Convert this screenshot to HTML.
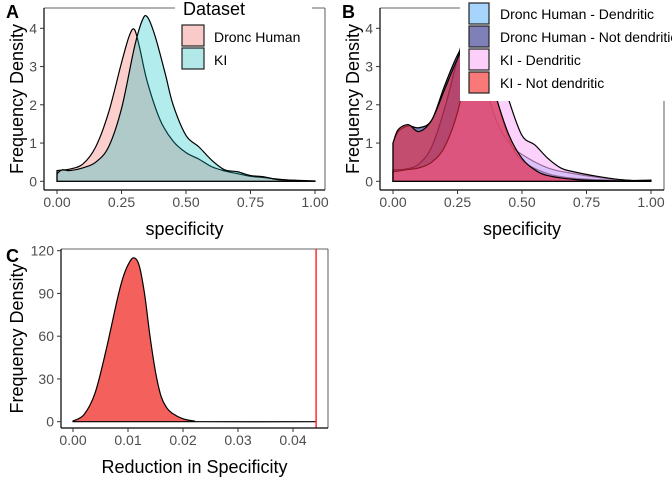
<!DOCTYPE html>
<html><head><meta charset="utf-8"><style>
body{margin:0;background:#fff;}
svg{display:block;font-family:"Liberation Sans",sans-serif;}
.tk{font-size:14px;fill:#4d4d4d;}
.ttl{font-size:18px;fill:#000;}
.lg{font-size:14px;fill:#000;}
</style></head><body>
<svg id="s" width="672" height="480"></svg>
<script>
const specTicks=[0,0.25,0.5,0.75,1];
const specTickLabels=["0.00","0.25","0.50","0.75","1.00"];
const densTicks=[0,1,2,3,4];
const droncX=[0,0.05,0.1,0.15,0.2,0.25,0.28,0.3,0.32,0.35,0.4,0.45,0.5,0.55,0.6,0.65,0.7,0.75,0.8,0.85,0.9,0.95,1];
const droncY=[0.28,0.32,0.45,0.9,1.8,3.1,3.8,3.97,3.5,2.6,1.6,1.05,0.75,0.58,0.38,0.27,0.2,0.13,0.1,0.06,0.03,0.01,0];
const kiX=[0,0.02,0.05,0.1,0.15,0.2,0.25,0.3,0.33,0.35,0.38,0.42,0.45,0.5,0.55,0.6,0.65,0.7,0.75,0.8,0.85,0.9,1];
const kiY=[0.2,0.3,0.28,0.35,0.5,0.9,1.9,3.5,4.2,4.3,3.8,2.8,2.0,1.2,0.9,0.55,0.3,0.25,0.15,0.12,0.05,0.03,0.01];
const dhDendX=[0,0.05,0.1,0.15,0.2,0.25,0.28,0.3,0.32,0.35,0.4,0.45,0.5,0.6,0.7,0.8,0.9,1];
const dhDendY=[0.3,0.32,0.45,0.9,1.9,3.2,3.9,4.0,3.6,2.7,1.6,1.0,0.7,0.35,0.2,0.1,0.03,0];
const dhNotX=[0,0.02,0.06,0.1,0.15,0.2,0.25,0.3,0.35,0.4,0.45,0.5,0.6,0.7,0.8,0.9,1];
const dhNotY=[1.0,1.3,1.45,1.4,1.6,2.5,3.3,3.8,3.4,2.2,1.1,0.55,0.2,0.08,0.04,0.02,0.03];
const kiDendX=[0,0.05,0.1,0.15,0.2,0.25,0.3,0.35,0.4,0.45,0.5,0.55,0.6,0.65,0.7,0.8,0.9,1];
const kiDendY=[0.25,0.3,0.35,0.5,0.9,1.8,3.3,4.1,3.2,2.1,1.2,0.95,0.6,0.35,0.25,0.12,0.03,0];
const kiNotX=[0,0.02,0.06,0.1,0.15,0.2,0.25,0.3,0.35,0.4,0.45,0.5,0.55,0.6,0.7,0.8,1];
const kiNotY=[1.0,1.35,1.48,1.3,1.6,2.4,3.2,3.8,3.5,2.2,1.2,0.6,0.3,0.15,0.05,0.02,0];
const redX=[0,0.002,0.004,0.006,0.008,0.009,0.01,0.011,0.012,0.013,0.014,0.015,0.016,0.017,0.018,0.02,0.022,0.024,0.0442];
const redY=[0.5,5,20,50,85,100,110,115,110,90,60,35,18,10,6,2,0.5,0,0];
const redTicks=[0,0.01,0.02,0.03,0.04];
const redTickLabels=["0.00","0.01","0.02","0.03","0.04"];
const redYTicks=[0,30,60,90,120];
const observed=0.0442;

const S=document.getElementById('s');const NS='http://www.w3.org/2000/svg';
function el(t,a,p){const e=document.createElementNS(NS,t);for(const k in a)e.setAttribute(k,a[k]);(p||S).appendChild(e);return e;}
function txt(s,a,cls){const e=el('text',a);e.setAttribute('class',cls);e.textContent=s;return e;}
function path(xs,ys,sx,sy){const P=xs.map((x,i)=>[sx(x),sy(ys[i])]);let d='M'+sx(xs[0])+','+sy(0)+'L'+P[0][0]+','+P[0][1];
 for(let i=0;i<P.length-1;i++){const p0=P[Math.max(0,i-1)],p1=P[i],p2=P[i+1],p3=P[Math.min(P.length-1,i+2)];
 d+='C'+(p1[0]+(p2[0]-p0[0])/6)+','+(p1[1]+(p2[1]-p0[1])/6)+' '+(p2[0]-(p3[0]-p1[0])/6)+','+(p2[1]-(p3[1]-p1[1])/6)+' '+p2[0]+','+p2[1];}
 return d+'L'+P[P.length-1][0]+','+sy(0)+'Z';}
function axes(ox,left,bottom,x0,x1,ticks,labs,sx,yticks,sy,ylabs,xt){
 el('line',{x1:left,y1:bottom,x2:x1,y2:bottom,stroke:'#000','stroke-width':1.2});
 el('line',{x1:left,y1:x0,x2:left,y2:bottom,stroke:'#000','stroke-width':1.2});
 ticks.forEach((t,i)=>{el('line',{x1:sx(t),x2:sx(t),y1:bottom,y2:bottom+4,stroke:'#333'});
  const e=txt(labs[i],{x:sx(t),y:bottom+17,'text-anchor':'middle'},'tk');});
 yticks.forEach((t,i)=>{el('line',{x1:left-4,x2:left,y1:sy(t),y2:sy(t),stroke:'#333'});
  const e=txt(ylabs[i],{x:left-7,y:sy(t)+5,'text-anchor':'end'},'tk');});
 let e=txt(xt,{x:(left+x1)/2,y:bottom+45,'text-anchor':'middle'},'ttl');
 e=txt('Frequency Density',{x:0,y:0,'text-anchor':'middle',transform:`translate(${ox+23},${(x0+bottom)/2}) rotate(-90)`},'ttl');
}
// Panel A
const ax=x=>57+x*258, ay=y=>181.3-y*38.25;
el('line',{x1:44,y1:8,x2:325,y2:8,stroke:'#333','stroke-width':0.8});
el('line',{x1:325,y1:8,x2:325,y2:190,stroke:'#333','stroke-width':0.8});
let p=el('path',{d:path(droncX,droncY,ax,ay),fill:'rgba(248,118,109,0.35)',stroke:'#000','stroke-width':1.2});
p=el('path',{d:path(kiX,kiY,ax,ay),fill:'rgba(0,191,196,0.3)',stroke:'#000','stroke-width':1.2});
axes(0,44,190,8,325,specTicks,specTickLabels,ax,densTicks,ay,densTicks.map(String),'specificity');
el('rect',{x:175,y:0,width:137,height:75,fill:'#fff'});
let t=txt('Dataset',{x:183,y:15},'ttl');
el('rect',{x:182,y:25,width:22,height:21,fill:'#f9cbc8',stroke:'#222','stroke-width':1.2});
el('rect',{x:182,y:48,width:22,height:21,fill:'#b3e8e9',stroke:'#222','stroke-width':1.2});
t=txt('Dronc Human',{x:214,y:42},'lg');
t=txt('KI',{x:214,y:65},'lg');
t=txt('A',{x:6,y:18,'font-weight':'bold'},'ttl');
// Panel B
const bx=x=>393+x*258;
el('line',{x1:380,y1:8,x2:664,y2:8,stroke:'#333','stroke-width':0.8});
el('line',{x1:664,y1:8,x2:664,y2:190,stroke:'#333','stroke-width':0.8});
[[dhDendX,dhDendY,'rgba(120,190,255,0.6)','density-dh-dendritic'],[dhNotX,dhNotY,'rgba(40,50,140,0.6)','density-dh-not-dendritic'],
 [kiDendX,kiDendY,'rgba(250,180,250,0.6)','density-ki-dendritic'],[kiNotX,kiNotY,'rgba(240,40,60,0.6)','density-ki-not-dendritic']].forEach(s=>{
 const q=el('path',{d:path(s[0],s[1],bx,ay),fill:s[2],stroke:'#000','stroke-width':1.2});});
axes(336,380,190,8,664,specTicks,specTickLabels,bx,densTicks,ay,densTicks.map(String),'specificity');
el('rect',{x:460,y:0,width:212,height:101,fill:'#fff'});
[['Dronc Human - Dendritic','#a6d4fb'],['Dronc Human - Not dendritic','#7f80b8'],['KI - Dendritic','#fccffb'],['KI - Not dendritic','#f87978']].forEach((r,i)=>{
 el('rect',{x:469,y:3+i*23,width:20,height:21,fill:r[1],stroke:'#222','stroke-width':1.2});
 const e=txt(r[0],{x:500,y:19+i*23},'lg');});
t=txt('B',{x:342,y:18,'font-weight':'bold'},'ttl');
// Panel C
const cx=x=>73+x*5500, cy=y=>421.7-y*1.425;
el('line',{x1:61,y1:249,x2:328,y2:249,stroke:'#333','stroke-width':0.8});
el('line',{x1:328,y1:249,x2:328,y2:428,stroke:'#333','stroke-width':0.8});
p=el('path',{d:path(redX,redY,cx,cy),fill:'#f4605c',stroke:'#000','stroke-width':1.2});
el('line',{x1:cx(observed),x2:cx(observed),y1:249,y2:428,stroke:'#ff2020','stroke-width':1.4});
axes(0,61,428,249,328,redTicks,redTickLabels,cx,redYTicks,cy,redYTicks.map(String),'Reduction in Specificity');
t=txt('C',{x:6,y:262,'font-weight':'bold'},'ttl');
</script>
</body></html>
